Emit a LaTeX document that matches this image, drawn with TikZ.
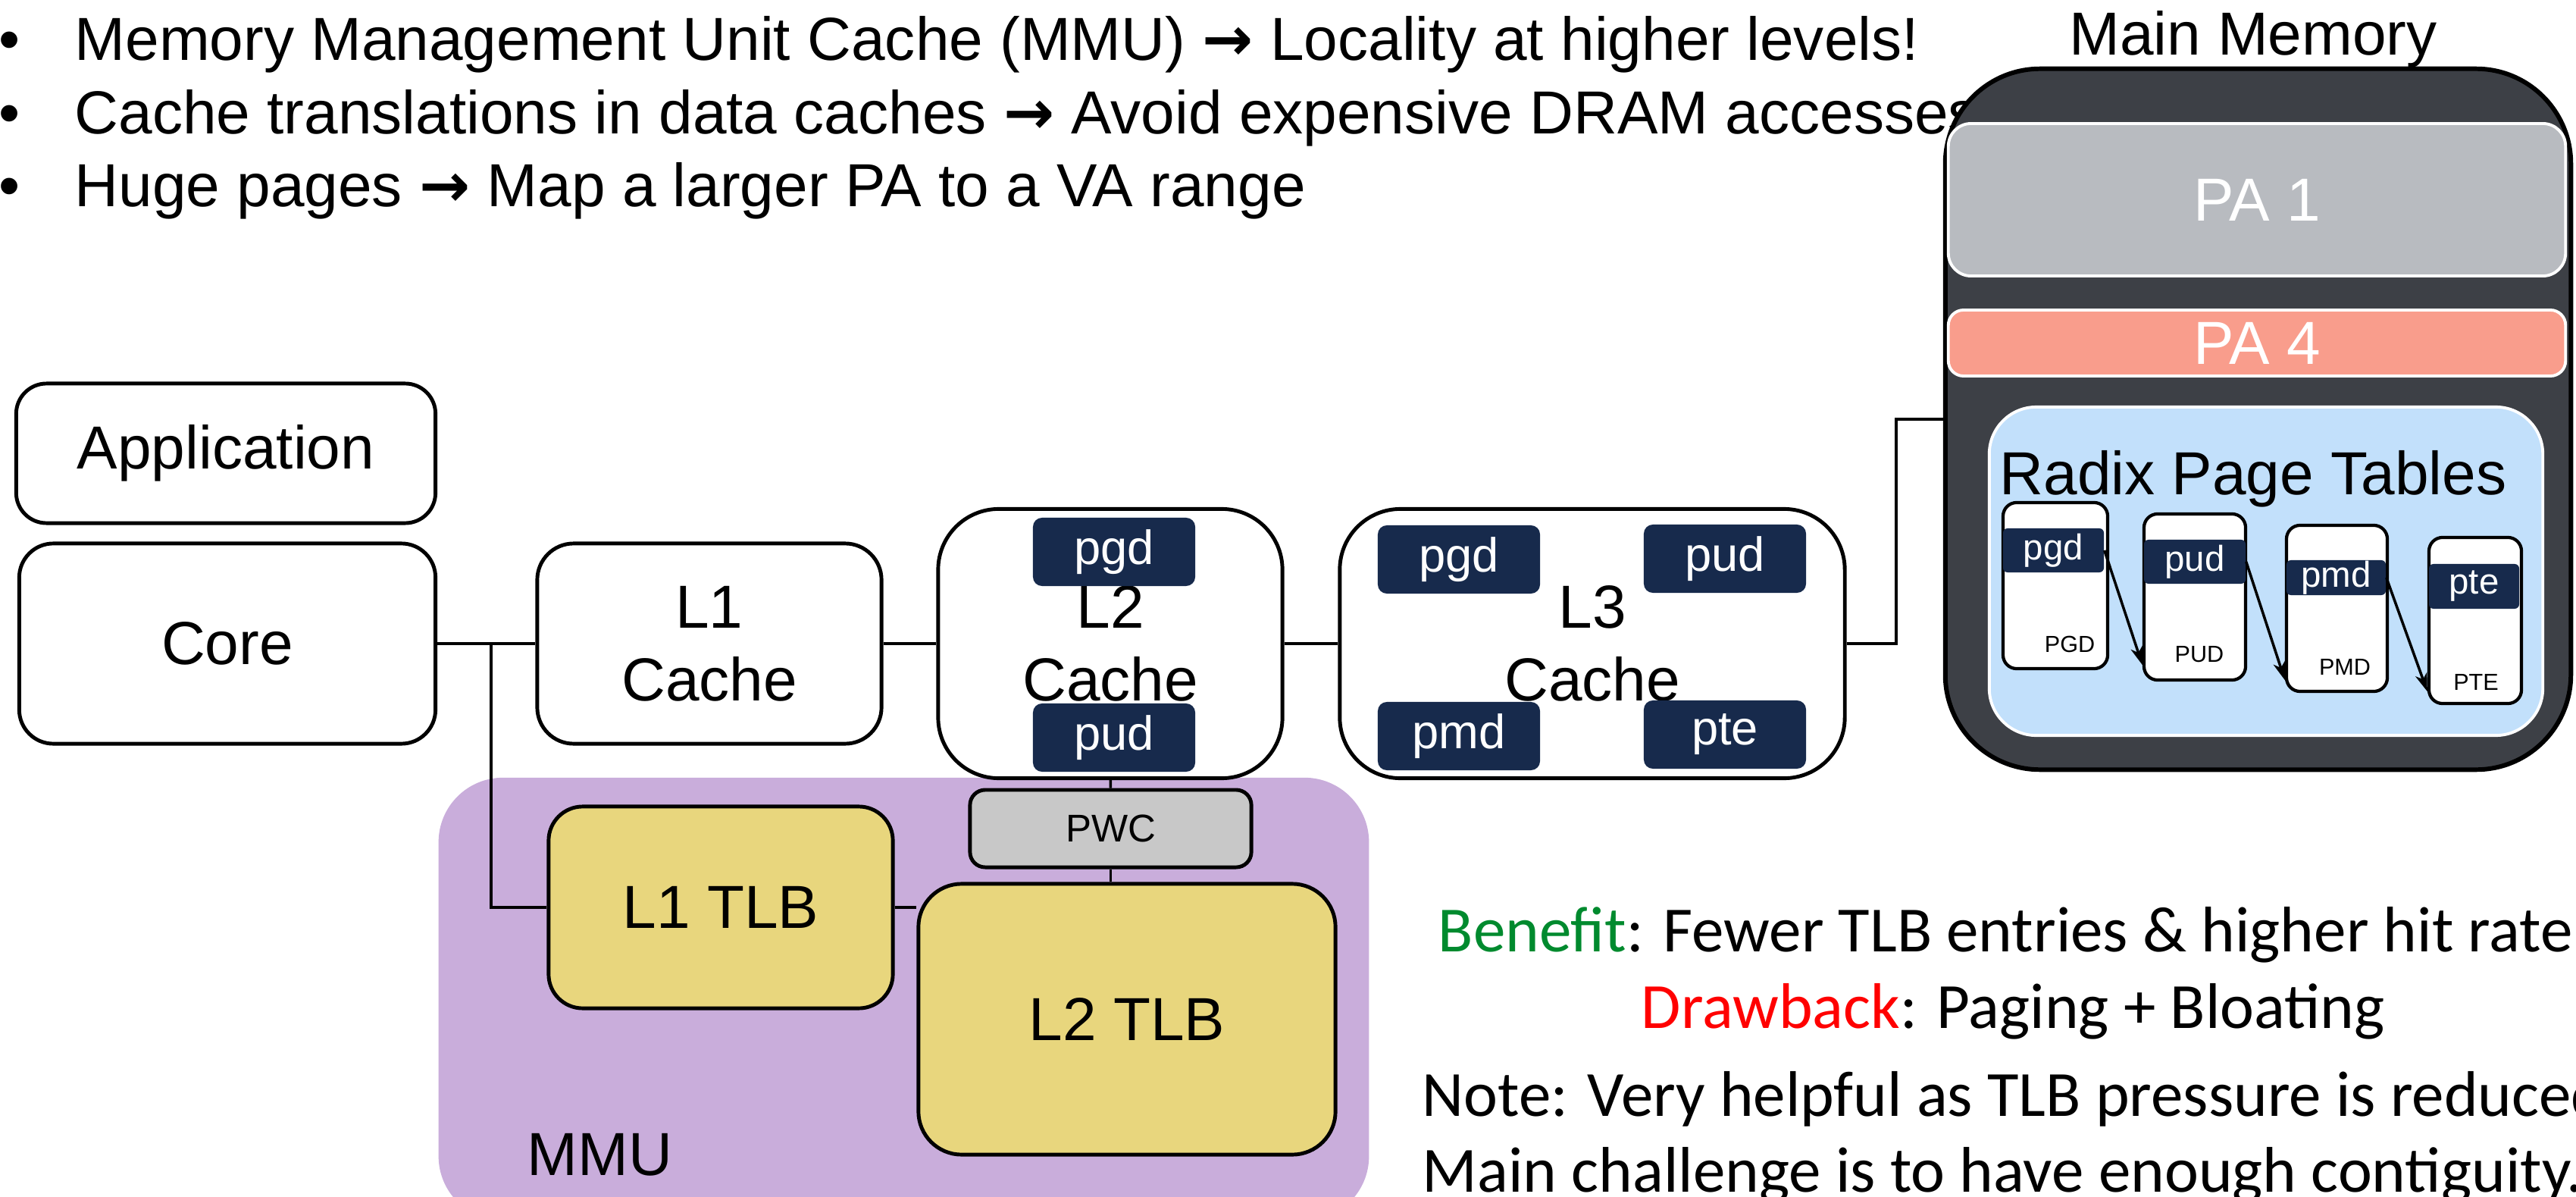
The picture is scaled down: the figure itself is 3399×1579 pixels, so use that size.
\documentclass[tikz,border=0pt]{standalone}
\usepackage{fontspec}
\usetikzlibrary{arrows.meta}
\setmainfont{Liberation Sans}
\newfontfamily\notefont{Carlito}
\newfontfamily\arrowfont{DejaVu Sans}

\definecolor{navy}{RGB}{23,42,76}
\definecolor{memgray}{RGB}{61,64,70}
\definecolor{pagray}{RGB}{184,187,192}
\definecolor{pasalmon}{RGB}{249,157,140}
\definecolor{radixblue}{RGB}{194,224,251}
\definecolor{mmupurple}{RGB}{201,173,219}
\definecolor{tlbyellow}{RGB}{232,214,125}
\definecolor{pwcgray}{RGB}{200,200,200}
\definecolor{benefitgreen}{RGB}{0,138,46}

\newcommand{\mainsz}{\fontsize{22.8}{27.4}\selectfont}
\newcommand{\tagsz}{\fontsize{18}{20}\selectfont}
\newcommand{\pwcsz}{\fontsize{14.5}{16}\selectfont}
\newcommand{\bandsz}{\fontsize{13.5}{15}\selectfont}
\newcommand{\labsz}{\fontsize{8.7}{10}\selectfont}
\newcommand{\notesz}{\notefont\fontsize{24.2}{28}\selectfont}
\newcommand{\thus}{{\arrowfont\bfseries →}}

\tikzset{
  blk/.style={draw, line width=1.4pt, fill=white, inner sep=0pt, align=center, font=\mainsz},
  tlb/.style={blk, fill=tlbyellow},
  tag/.style={fill=navy, text=white, rounded corners=0.12cm, inner sep=0pt, font=\tagsz,
    minimum width=2.14cm, minimum height=0.9cm},
  slab/.style={draw=white, line width=1.1pt, text=white, inner sep=0pt, font=\mainsz,
    minimum width=8.14cm},
  ptab/.style={draw, line width=1.2pt, fill=white, rounded corners=0.18cm, inner sep=0pt,
    minimum height=2.19cm},
  band/.style={fill=navy, text=white, rounded corners=0.06cm, inner sep=0pt, font=\bandsz},
  txt/.style={inner sep=0pt, anchor=base, font=\mainsz},
  remark/.style={inner sep=0pt, anchor=base west, font=\notesz},
  link/.style={line width=1pt}
}

\begin{document}
\begin{tikzpicture}[x=0.01cm, y=-0.01cm, >={Stealth[length=0.24cm, width=0.16cm, inset=0.07cm]}]
            \useasboundingbox (0,0) rectangle (3399,1579);

            \node[txt] (dot1) at (13,80) {•};
            \node[txt] (dot2) at (13,177) {•};
            \node[txt] (dot3) at (13,272) {•};
            \node[txt, anchor=base west] (line1) at (98,80) {Memory Management Unit Cache (MMU) \thus{} Locality at higher levels!};
            \node[txt, anchor=base west] (line2) at (98,177) {Cache translations in data caches \thus{} Avoid expensive DRAM accesses};
            \node[txt, anchor=base west] (line3) at (98,272) {Huge pages \thus{} Map a larger PA to a VA range};

            \node[fill=mmupurple, rounded corners=0.85cm, minimum width=12.27cm, minimum height=5.84cm, inner sep=0pt] (mmu) at (1192.5,1318) {};
            \node[txt, anchor=base west] (mmulabel) at (695,1550) {MMU};

            \node[blk, rounded corners=0.4cm, minimum width=5.53cm, minimum height=1.84cm] (app) at (298,598) {Application};
            \node[blk, rounded corners=0.45cm, minimum width=5.49cm, minimum height=2.64cm] (core) at (300,849) {Core};
            \node[blk, rounded corners=0.48cm, minimum width=4.54cm, minimum height=2.64cm] (L1) at (936,849) {L1\\Cache};
            \node[blk, rounded corners=0.8cm, minimum width=4.54cm, minimum height=3.55cm] (L2) at (1465,849) {L2\\Cache};
            \node[blk, rounded corners=0.8cm, minimum width=6.66cm, minimum height=3.55cm] (L3) at (2101,849) {L3\\Cache};

            \node[tag] (l2pgd) at (1470,728) {pgd};
            \node[tag] (l2pud) at (1470,973) {pud};
            \node[tag] (l3pgd) at (1925,738) {pgd};
            \node[tag] (l3pud) at (2276,737) {pud};
            \node[tag] (l3pmd) at (1925,971) {pmd};
            \node[tag] (l3pte) at (2276,969) {pte};

            \node[tlb, rounded corners=0.45cm, minimum width=4.54cm, minimum height=2.66cm] (tlb1) at (951,1197) {L1 TLB};
            \node[tlb, rounded corners=0.57cm, minimum width=5.5cm, minimum height=3.57cm] (tlb2) at (1487,1344.5) {L2 TLB};
            \node[blk, fill=pwcgray, rounded corners=0.2cm, minimum width=3.71cm, minimum height=1.02cm, font=\pwcsz] (pwc) at (1465.5,1093) {PWC};

            \node[txt] (memtitle) at (2973,73) {Main Memory};
            \node[draw, line width=1.7pt, fill=memgray, rounded corners=1.25cm, minimum width=8.25cm, minimum height=9.24cm, inner sep=0pt] (mem) at (2979.5,553) {};
            \node[slab, fill=pagray, rounded corners=0.3cm, minimum height=2.01cm] (pa1) at (2978,263.5) {PA 1};
            \node[slab, fill=pasalmon, rounded corners=0.2cm, minimum height=0.87cm] (pa4) at (2978,452.5) {PA 4};
            \node[draw=white, line width=1.1pt, fill=radixblue, rounded corners=0.62cm, minimum width=7.3cm, minimum height=4.33cm, inner sep=0pt] (radix) at (2990,753.5) {};
            \node[txt] (radixtitle) at (2973,652) {Radix Page Tables};

            \node[ptab, minimum width=1.38cm] (tpgd) at (2712,772.5) {};
            \node[ptab, minimum width=1.34cm] (tpud) at (2896,787.5) {};
            \node[ptab, minimum width=1.33cm] (tpmd) at (3083.5,802.5) {};
            \node[ptab, minimum width=1.22cm] (tpte) at (3266,818.5) {};
            \node[band, minimum width=1.33cm, minimum height=0.58cm] (bpgd) at (2709.5,726) {pgd};
            \node[band, minimum width=1.34cm, minimum height=0.58cm] (bpud) at (2896,741) {pud};
            \node[band, minimum width=1.31cm, minimum height=0.46cm] (bpmd) at (3082.5,762) {pmd};
            \node[band, minimum width=1.19cm, minimum height=0.59cm] (bpte) at (3264.5,773.5) {pte};
            \node[txt, font=\labsz] (lpgd) at (2731,860) {PGD};
            \node[txt, font=\labsz] (lpud) at (2902,873) {PUD};
            \node[txt, font=\labsz] (lpmd) at (3094,890) {PMD};
            \node[txt, font=\labsz] (lpte) at (3267,910) {PTE};

            \draw[->, link] (bpgd.east) -- ([yshift=0.22cm]tpud.south west);
            \draw[->, link] (bpud.east) -- ([yshift=0.17cm]tpmd.south west);
            \draw[->, link] (bpmd.east) -- ([yshift=0.18cm]tpte.south west);

            \coordinate (split) at (648,849);
            \coordinate (bend) at (2502,553);
            \draw[link] (core) -- (L1);
            \draw[link] (split) |- (tlb1.west);
            \draw[link] (L1) -- (L2);
            \draw[link] (L2) -- (L3);
            \draw[link] (L2) -- (pwc);
            \draw[link] (pwc.south) -- (pwc.south |- tlb2.north);
            \draw[link] (tlb1.east) -- (tlb1.east -| tlb2.west);
            \draw[link] (L3.east) -| (bend) -- (bend -| mem.west);

            \node[remark] (benefit) at (1897,1255) {\textcolor{benefitgreen}{Benefit}: Fewer TLB entries \& higher hit rate};
            \node[remark] (drawback) at (2165,1356) {\textcolor{red}{Drawback}: Paging + Bloating};
            \node[remark] (note) at (1876,1472) {Note: Very helpful as TLB pressure is reduced};
            \node[remark] (challenge) at (1876,1572) {Main challenge is to have enough contiguity.};
        \end{tikzpicture}
\end{document}
